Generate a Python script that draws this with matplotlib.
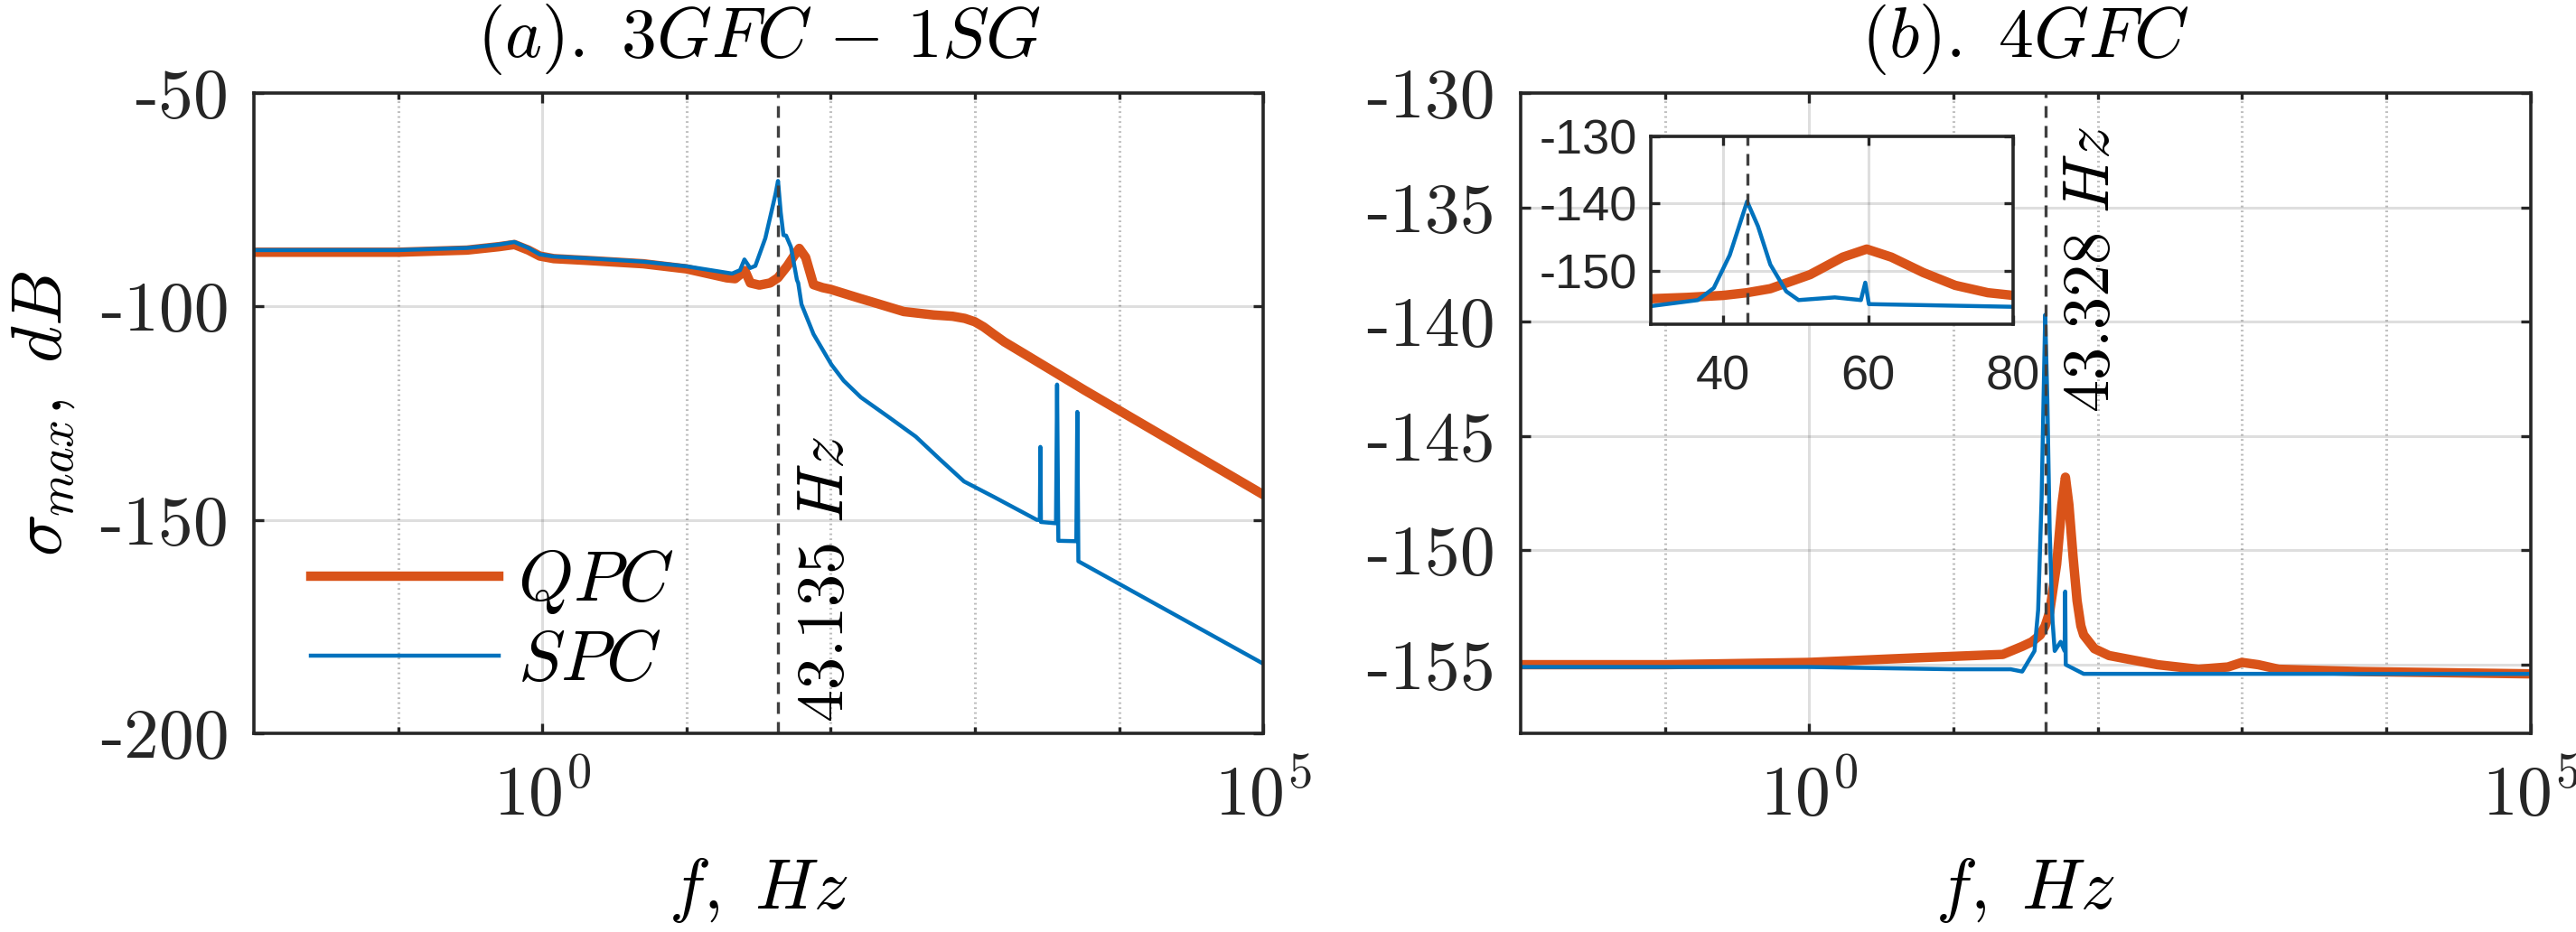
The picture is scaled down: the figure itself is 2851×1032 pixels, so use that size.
import numpy as np
import matplotlib.pyplot as plt

plt.rcParams['mathtext.fontset'] = 'cm'
plt.rcParams['axes.unicode_minus'] = False

# (a) 3GFC-1SG  -- frequency in Hz, sigma_max in dB
fa_qpc = [0.01, 0.1, 0.3, 0.5, 0.64, 0.8, 0.96, 1.2, 2, 5, 10, 19, 21.7, 25.4, 27.7,
          32, 38, 43, 50, 56, 60.5, 67, 76, 88, 100, 159, 200, 321, 519, 700, 850, 1000,
          1150, 1360, 1600, 2200, 5750, 1e5]
qpc_a = [-87.3, -87.3, -86.8, -86.0, -85.5, -86.8, -88.2, -88.8, -89.2, -90.0, -91.2, -93.3,
         -93.5, -91.6, -94.5, -95.0, -94.5, -93.3, -90.5, -88.0, -86.4, -88.5, -94.9, -95.6,
         -96.0, -98.1, -99.1, -101.2, -102.0, -102.3, -102.8, -103.6, -104.8, -106.6, -108.3,
         -111.1, -119.6, -144.1]

fa_spc = [0.01, 0.1, 0.3, 0.5, 0.64, 0.8, 0.96, 1.2, 2, 5, 10, 20.7, 23.5, 25.2, 27.6, 30,
          35.2, 39.8, 41.5, 43.1, 45, 47, 49, 53, 58.3, 59.5, 62.7, 76, 101, 123, 162, 252,
          389, 571, 841, 1350, 2690, 2820, 2845, 2870, 3650, 3715, 3790, 5050, 5130, 5220, 1e5]
spc_a = [-86.8, -86.8, -86.3, -85.5, -84.9, -86.3, -87.8, -88.3, -88.7, -89.5, -90.6, -92.3,
         -91.5, -89.0, -91.0, -90.5, -84.0, -76.2, -73.5, -70.6, -78.0, -83.3, -83.4, -86.1,
         -93.8, -94.5, -99.5, -106.5, -113.6, -117.4, -121.3, -125.9, -130.5, -135.8, -141.0,
         -144.6, -150.0, -150.0, -132.9, -150.5, -150.8, -118.3, -154.9, -155.0, -124.7,
         -159.7, -183.7]

# (b) 4GFC
fb_qpc = [0.01, 0.1, 1, 5.5, 22, 30, 35, 40, 43.3, 46.5, 52, 56.5, 59.8, 63.2, 67.6, 72,
          76.5, 80, 95, 120, 260, 500, 800, 1000, 1300, 1800, 6600, 1e5]
qpc_b = [-155.0, -155.0, -154.9, -154.7, -154.55, -154.2, -154.0, -153.7, -153.3, -152.7,
         -150.6, -148.0, -146.8, -148.0, -150.3, -152.2, -153.3, -153.7, -154.3, -154.6,
         -155.0, -155.2, -155.1, -154.9, -155.0, -155.2, -155.3, -155.4]

fb_spc = [0.01, 1, 3, 10, 25, 30, 36.5, 38.7, 40.9, 43.3, 44.8, 46.5, 48.7, 50.4, 55.4,
          59.0, 59.6, 60.1, 80, 1e5]
spc_b = [-155.1, -155.1, -155.15, -155.2, -155.2, -155.3, -154.4, -152.6, -147.7, -139.7,
         -143.4, -149.1, -153.1, -154.4, -154.0, -154.4, -151.8, -155.0, -155.4, -155.4]

f_res_a = 43.135
f_res_b = 43.328

ORANGE = '#D95319'
BLUE = '#0072BD'
DARK = '#262626'
FS = 56
LW_Q = 7.5
LW_S = 3.2


def style(ax, yticks, ylim):
    ax.set_xscale('log')
    ax.set_xlim(1e-2, 1e5)
    ax.set_ylim(*ylim)
    ax.set_xticks([1e0, 1e5], [r'$10^0$', r'$10^5$'], fontsize=FS)
    ax.set_xticks([1e-1, 1e1, 1e2, 1e3, 1e4], minor=True)
    ax.set_xticklabels([], minor=True)
    ax.set_yticks(yticks, [str(t) for t in yticks], fontsize=FS,
                  fontfamily=['cmr10', 'DejaVu Serif'])
    ax.tick_params(which='both', direction='in', top=True, right=True,
                   width=2.4, color=DARK, labelcolor=DARK)
    ax.tick_params(which='major', length=8)
    ax.tick_params(which='minor', length=5)
    ax.tick_params(axis='y', pad=20)
    ax.tick_params(axis='x', pad=22)
    ax.grid(True, which='major', color=DARK, alpha=0.15, linewidth=2.2)
    ax.grid(True, which='minor', axis='x', color=DARK, alpha=0.3, linewidth=2.2,
            linestyle=(0, (0.6, 1.2)))
    for s in ax.spines.values():
        s.set_linewidth(2.6)
        s.set_color(DARK)
    ax.set_xlabel(r'$f,\ Hz$', fontsize=FS)
    ax.xaxis.set_label_coords(0.5, -0.19)


fig = plt.figure(figsize=(28.51, 10.32), dpi=100)
ax1 = fig.add_axes([0.0986, 0.2132, 0.3918, 0.6870])
ax2 = fig.add_axes([0.5903, 0.2132, 0.3920, 0.6870])

# panel (a)
ax1.plot(fa_qpc, qpc_a, color=ORANGE, linewidth=LW_Q, label=r'$QPC$')
ax1.plot(fa_spc, spc_a, color=BLUE, linewidth=LW_S, label=r'$SPC$')
ax1.axvline(f_res_a, color='#404040', linewidth=2.4, linestyle=(0, (3.9, 2.7)))
style(ax1, [-50, -100, -150, -200], (-200, -50))
ax1.set_title(r'$(a).\ 3GFC\,-\,1SG$', fontsize=FS, pad=29, color='black')
ax1.set_ylabel(r'$\sigma_{max},\ dB$', fontsize=FS)
ax1.yaxis.set_label_coords(-0.176, 0.5)
ax1.text(56, -197.5, r'$43.135\ Hz$', rotation=90, ha='left', va='bottom', fontsize=52)
ax1.legend(loc='upper left', bbox_to_anchor=(0.0564, 0.292), frameon=False, fontsize=FS,
           borderpad=0, borderaxespad=0, handlelength=2.67, handletextpad=0.27,
           labelspacing=0.14)

# panel (b)
ax2.plot(fb_qpc, qpc_b, color=ORANGE, linewidth=LW_Q)
ax2.plot(fb_spc, spc_b, color=BLUE, linewidth=LW_S)
ax2.axvline(f_res_b, color='#404040', linewidth=2.4, linestyle=(0, (3.9, 2.7)))
style(ax2, [-130, -135, -140, -145, -150, -155], (-158, -130))
ax2.set_title(r'$(b).\ 4GFC$', fontsize=FS, pad=29, color='black')
ax2.text(55, -144.0, r'$43.328\ Hz$', rotation=90, ha='left', va='bottom', fontsize=52)

# inset zoom around the resonance
axi = fig.add_axes([0.6408, 0.6521, 0.1407, 0.2016])
axi.plot(fb_qpc, qpc_b, color=ORANGE, linewidth=LW_Q)
axi.plot(fb_spc, spc_b, color=BLUE, linewidth=LW_S)
axi.axvline(f_res_b, color='#404040', linewidth=2.4, linestyle=(0, (3.9, 2.7)))
axi.set_xlim(30, 80)
axi.set_ylim(-158, -130)
axi.set_xticks([40, 60, 80], ['40', '60', '80'], fontsize=39, fontfamily='Liberation Sans')
axi.set_yticks([-130, -140, -150], ['-130', '-140', '-150'], fontsize=39,
               fontfamily='Liberation Sans')
axi.tick_params(direction='in', top=True, right=True, width=2.4, length=7,
                color=DARK, labelcolor=DARK)
axi.tick_params(axis='y', pad=11)
axi.tick_params(axis='x', pad=24)
axi.grid(True, color=DARK, alpha=0.15, linewidth=2.2)
for s in axi.spines.values():
    s.set_linewidth(2.6)
    s.set_color(DARK)

fig.savefig('out.png', dpi=100)
